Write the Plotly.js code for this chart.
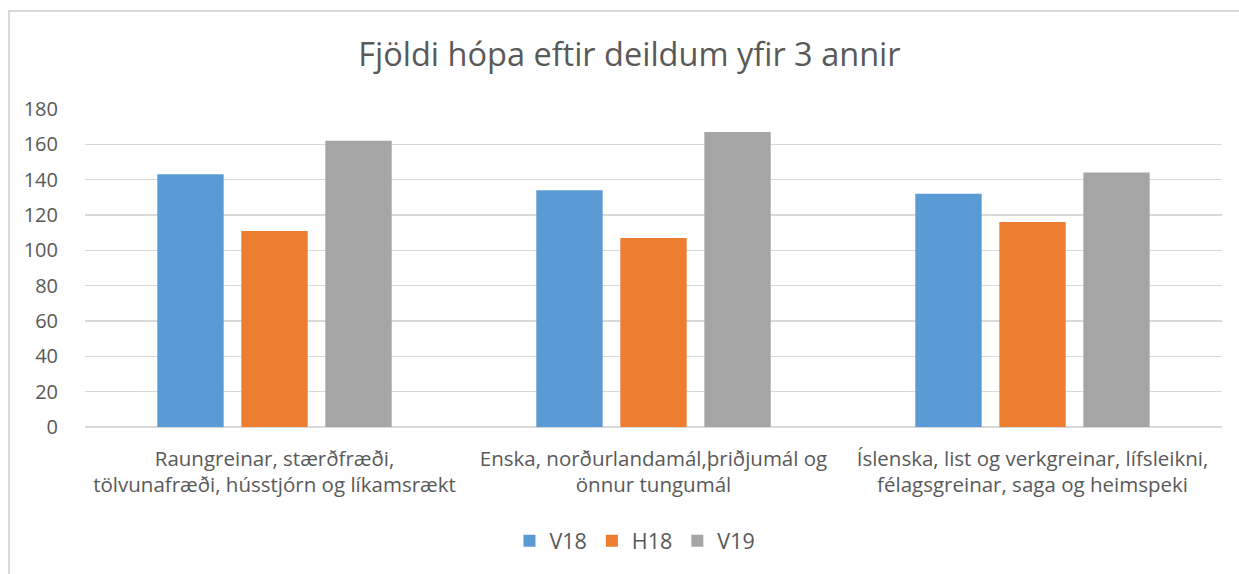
<!DOCTYPE html>
<html>
<head>
<meta charset="utf-8">
<script src="https://cdn.plot.ly/plotly-3.0.1.min.js"></script>
<style>
html,body{margin:0;padding:0;background:#fff;overflow:hidden;}
#frame{position:absolute;left:8px;top:10px;width:1300px;height:600px;border-left:2px solid #d9d9d9;border-top:2px solid #d9d9d9;pointer-events:none;z-index:5;}
#chart{position:absolute;left:0;top:0;width:1239px;height:574px;}
</style>
</head>
<body>
<div id="chart"></div>
<div id="frame"></div>
<script>
const categories = [
  "Raungreinar, stærðfræði,<br>tölvunafræði, hússtjórn og líkamsrækt",
  "Enska, norðurlandamál,þriðjumál og<br>önnur tungumál",
  "Íslenska, list og verkgreinar, lífsleikni,<br>félagsgreinar, saga og heimspeki"
];
const V18 = [143, 134, 132];
const H18 = [111, 107, 116];
const V19 = [162, 167, 144];
const yTicks = [0, 20, 40, 60, 80, 100, 120, 140, 160, 180];

const font = "Open Sans, sans-serif";
const txt = "#595959";

const traces = [
  {type: "bar", name: "V18", x: categories, y: V18, marker: {color: "#5b9bd5"}},
  {type: "bar", name: "H18", x: categories, y: H18, marker: {color: "#ed7d31"}},
  {type: "bar", name: "V19", x: categories, y: V19, marker: {color: "#a5a5a5"}}
];

const layout = {
  width: 1239, height: 574,
  margin: {l: 85, r: 17, t: 109, b: 144},
  paper_bgcolor: "#fff", plot_bgcolor: "#fff",
  barmode: "group", bargap: 0.335, bargroupgap: 0.21,
  showlegend: true,
  title: {text: "Fjöldi hópa eftir deildum yfir 3 annir", x: 0.508, xanchor: "center", y: 0.905, yanchor: "middle",
          font: {family: font, size: 32.5, color: txt}},
  xaxis: {tickfont: {family: font, size: 20.5, color: txt}, showgrid: false, showline: false,
          ticks: "outside", ticklen: 13, tickcolor: "rgba(0,0,0,0)", fixedrange: true},
  yaxis: {range: [0, 180], tickvals: yTicks, ticktext: yTicks.map(String), tickfont: {family: font, size: 20, color: txt},
          showgrid: true, gridcolor: "#d9d9d9", gridwidth: 1.5, zeroline: true, zerolinecolor: "#d9d9d9", zerolinewidth: 1.5,
          showline: false, ticks: "outside", ticklen: 22, tickcolor: "rgba(0,0,0,0)", fixedrange: true},
  legend: {orientation: "h", x: 0.4837, xanchor: "center", y: -0.358, yanchor: "middle",
           font: {family: font, size: 21.5, color: txt}, itemwidth: 30, tracegroupgap: 0}
};

Plotly.newPlot("chart", traces, layout, {displayModeBar: false, staticPlot: true});
</script>
</body>
</html>
